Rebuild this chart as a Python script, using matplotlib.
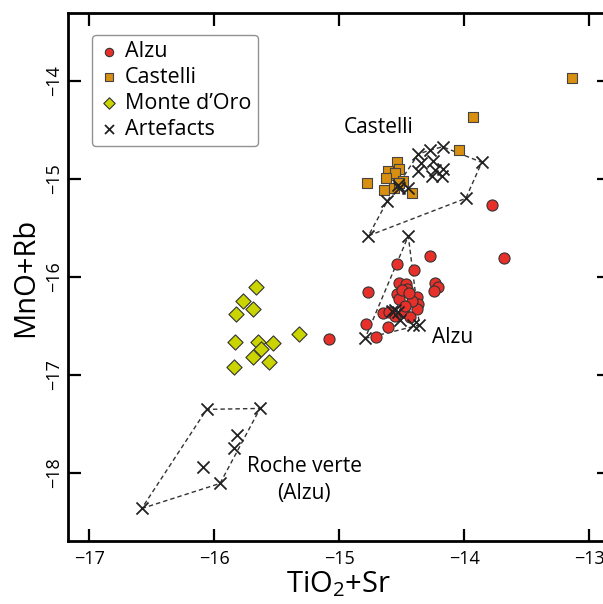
import numpy as np
import matplotlib
matplotlib.use("Agg")
import matplotlib.pyplot as plt

plt.rcParams['font.family'] = ['Open Sans', 'DejaVu Sans']
plt.rcParams['mathtext.fontset'] = 'custom'
plt.rcParams['mathtext.rm'] = 'Open Sans'

# ---- data ----
alzu_x = [-13.775, -13.684, -14.272, -14.533, -14.397, -14.771, -14.523, -14.464,
          -14.459, -14.232, -14.205, -14.237, -14.539, -14.517, -14.379, -14.365,
          -14.373, -14.645, -14.480, -14.432, -14.605, -14.784, -14.704, -15.078,
          -14.500, -14.420, -14.600, -14.550, -14.470, -14.440]
alzu_y = [-15.268, -15.812, -15.788, -15.873, -15.931, -16.152, -16.067, -16.074,
          -16.121, -16.067, -16.101, -16.149, -16.179, -16.230, -16.203, -16.278,
          -16.332, -16.373, -16.357, -16.407, -16.510, -16.485, -16.618, -16.635,
          -16.130, -16.250, -16.360, -16.400, -16.300, -16.160]

castelli_x = [-13.140, -13.926, -14.037, -14.774, -14.533, -14.523, -14.608,
              -14.552, -14.624, -14.640, -14.560, -14.485, -14.416, -14.517]
castelli_y = [-13.970, -14.371, -14.708, -15.039, -14.827, -14.896, -14.916,
              -14.937, -14.994, -15.117, -15.090, -15.018, -15.147, -15.045]

monte_x = [-15.666, -15.765, -15.685, -15.827, -15.323, -15.832, -15.645,
           -15.525, -15.627, -15.690, -15.563, -15.840]
monte_y = [-16.101, -16.244, -16.329, -16.383, -16.584, -16.663, -16.663,
           -16.680, -16.734, -16.822, -16.867, -16.918]

# artefacts, with group labels (the dashed envelopes)
art_x = [-16.059, -15.632, -15.819, -15.837, -16.091, -15.952, -16.579,
         -14.171, -14.272, -14.366, -13.858, -14.347, -14.245, -14.366, -14.232,
         -14.166, -14.258, -14.178, -14.446, -14.518, -14.614, -13.986, -14.765,
         -14.526,
         -14.446, -14.556, -14.530, -14.512, -14.405, -14.357, -14.792, -14.580]
art_y = [-17.353, -17.343, -17.616, -17.752, -17.946, -18.109, -18.365,
         -14.671, -14.705, -14.746, -14.830, -14.841, -14.814, -14.916, -14.909,
         -14.899, -14.970, -14.970, -15.096, -15.096, -15.226, -15.198, -15.580,
         -15.060,
         -15.583, -16.338, -16.360, -16.441, -16.492, -16.492, -16.628, -16.350]
art_group = ['roche'] * 7 + ['castelli'] * 17 + ['alzu'] * 8

group_labels = {'castelli': 'Castelli', 'alzu': 'Alzu', 'roche': 'Roche verte\n(Alzu)'}
label_pos = {'castelli': (-14.686, -14.475), 'alzu': (-14.088, -16.62),
             'roche': (-15.28, -18.07)}


def hull(points):
    pts = sorted(set(points))
    if len(pts) < 3:
        return pts

    def cross(o, a, b):
        return (a[0] - o[0]) * (b[1] - o[1]) - (a[1] - o[1]) * (b[0] - o[0])
    lower, upper = [], []
    for p in pts:
        while len(lower) >= 2 and cross(lower[-2], lower[-1], p) <= 0:
            lower.pop()
        lower.append(p)
    for p in reversed(pts):
        while len(upper) >= 2 and cross(upper[-2], upper[-1], p) <= 0:
            upper.pop()
        upper.append(p)
    return lower[:-1] + upper[:-1]


fig = plt.figure(figsize=(6.03, 6.04), dpi=100)
ax = fig.add_axes([0.1133, 0.1038, 0.8967, 0.8742])

# dashed envelopes
for g in ['roche', 'castelli', 'alzu']:
    pts = [(x, y) for x, y, gg in zip(art_x, art_y, art_group) if gg == g]
    h = hull(pts)
    h = h + [h[0]]
    ax.plot([p[0] for p in h], [p[1] for p in h], ls=(0, (3.2, 2.2)),
            color='#333333', lw=1.0, zorder=1)

ax.scatter(alzu_x, alzu_y, s=64, marker='o', facecolor='#e8302a',
           edgecolor='#333333', linewidth=0.8, zorder=3, label='Alzu')
ax.scatter(castelli_x, castelli_y, s=55, marker='s', facecolor='#d98f10',
           edgecolor='#444444', linewidth=0.8, zorder=3, label='Castelli')
ax.scatter(monte_x, monte_y, s=60, marker='D', facecolor='#c9d400',
           edgecolor='#333333', linewidth=0.8, zorder=3, label="Monte d\u2019Oro")
ax.scatter(art_x, art_y, s=75, marker='x', color='#222222', linewidth=1.3,
           zorder=4, label='Artefacts')

for g, t in group_labels.items():
    ax.text(label_pos[g][0], label_pos[g][1], t, ha='center', va='center',
            fontsize=15, linespacing=1.38, zorder=5)

ax.set_xlim(-17.166, -12.84)
ax.set_ylim(-18.70, -13.308)
ax.set_xticks([-17, -16, -15, -14, -13])
ax.set_yticks([-14, -15, -16, -17, -18])
ax.set_xticklabels(['\u221217', '\u221216', '\u221215', '\u221214', '\u221213'])
ax.set_yticklabels(['\u221214', '\u221215', '\u221216', '\u221217', '\u221218'],
                   rotation=90, va='center')
ax.tick_params(direction='in', length=9, width=1.6, labelsize=13,
               top=True, right=True, pad=4)
ax.tick_params(axis='x', pad=6)
for s in ax.spines.values():
    s.set_linewidth(2.0)

ax.set_xlabel('TiO$_\\mathregular{2}$+Sr', fontsize=21, labelpad=1)
ax.set_ylabel('MnO+Rb', fontsize=21, labelpad=3)

leg = ax.legend(loc='upper left', bbox_to_anchor=(0.0433, 0.959),
                borderaxespad=0, fontsize=15.5, frameon=True, fancybox=True,
                edgecolor='#777777', handletextpad=0.25, labelspacing=0.22,
                handlelength=1.0, borderpad=0.3, markerscale=0.75)
leg.get_frame().set_linewidth(1.0)

fig.savefig('out.png', dpi=100)
